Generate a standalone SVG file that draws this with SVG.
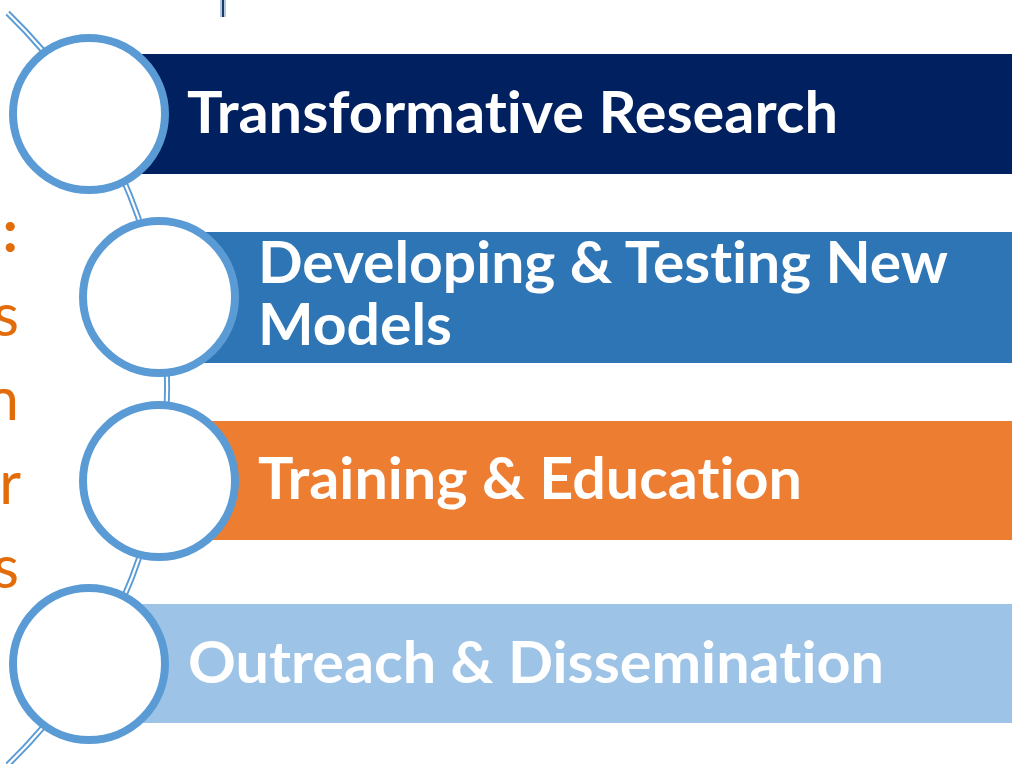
<svg xmlns="http://www.w3.org/2000/svg" width="1012" height="764" viewBox="0 0 1012 764">
<style>
.bar-text{font-family:Lato,"Open Sans","Liberation Sans",sans-serif;font-weight:700;font-size:58px;fill:#FFFFFF;font-variant-ligatures:none;font-feature-settings:"liga" 0,"clig" 0}
.side{font-family:Lato,"Open Sans","Liberation Sans",sans-serif;font-size:60px;fill:#E36C0A}
.ring{fill:#FFFFFF;stroke:#5B9BD5;stroke-width:8}
.conn-outer{fill:none;stroke:#5B9BD5;stroke-width:6}
.conn-inner{fill:none;stroke:#FFFFFF;stroke-width:2.2}
</style>
<rect width="1012" height="764" fill="#FFFFFF"/>
<g id="top-tick">
<rect x="220" y="0" width="6" height="17" fill="#B4C7E7"/>
<rect x="222" y="0" width="2" height="17" fill="#203864"/>
</g>
<g id="side-text">
<text class="side" x="18" y="252" text-anchor="end" font-weight="700">:</text>
<text class="side" x="19" y="336" text-anchor="end">s</text>
<text class="side" x="19" y="420" text-anchor="end">n</text>
<text class="side" x="21" y="504" text-anchor="end">r</text>
<text class="side" x="19" y="588" text-anchor="end">s</text>
</g>
<g id="connectors">
<path class="conn-outer" d="M 7.6 13 A 522.9 522.9 0 0 1 7.6 765"/>
<path class="conn-inner" d="M 7.6 13 A 522.9 522.9 0 0 1 7.6 765"/>
</g>
<g id="node-1">
<rect x="89" y="54" width="930" height="120" fill="#002060"/>
<circle class="ring" cx="89" cy="114" r="76"/>
<text class="bar-text" x="187" y="133" textLength="651" lengthAdjust="spacingAndGlyphs">Transformative Research</text>
</g>
<g id="node-2">
<rect x="159" y="232" width="860" height="131" fill="#2E75B6"/>
<circle class="ring" cx="159" cy="297" r="76"/>
<text class="bar-text" x="258" y="283" textLength="690" lengthAdjust="spacingAndGlyphs">Developing &amp; Testing New</text>
<text class="bar-text" x="258" y="345" textLength="194" lengthAdjust="spacingAndGlyphs">Models</text>
</g>
<g id="node-3">
<rect x="159" y="421" width="860" height="119" fill="#ED7D31"/>
<circle class="ring" cx="159" cy="481" r="76"/>
<text class="bar-text" x="258" y="499" textLength="544" lengthAdjust="spacingAndGlyphs">Training &amp; Education</text>
</g>
<g id="node-4">
<rect x="89" y="604" width="930" height="119" fill="#9DC3E6"/>
<circle class="ring" cx="89" cy="664" r="76"/>
<text class="bar-text" x="188" y="683" textLength="696" lengthAdjust="spacingAndGlyphs">Outreach &amp; Dissemination</text>
</g>
</svg>
